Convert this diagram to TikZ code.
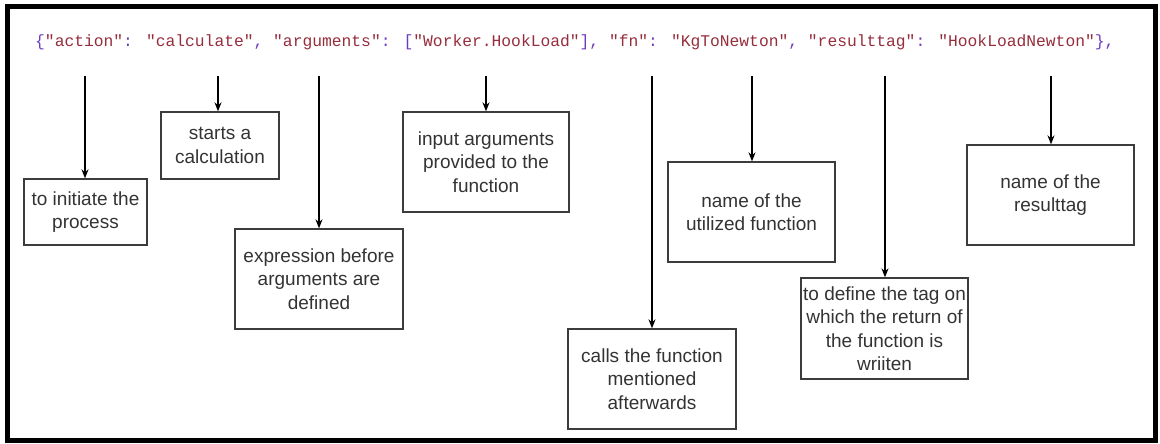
\documentclass[tikz,border=0pt]{standalone}
\usepackage{fontspec}
\setmainfont{Liberation Sans}
\newfontfamily\codefont{Liberation Mono}
\usepackage{tikz}
\usetikzlibrary{arrows.meta}
\usepackage{xcolor}
\definecolor{jsonpurple}{RGB}{110,60,190}
\definecolor{jsonbrown}{RGB}{150,45,60}
\definecolor{boxgrey}{RGB}{60,60,60}
\newcommand{\jp}[1]{\textcolor{jsonpurple}{#1}}
\newcommand{\js}[1]{\textcolor{jsonbrown}{#1}}
\tikzset{%
    note/.style={%
        draw=boxgrey, line width=1.3pt, text=black!80, align=center,
        inner sep=0pt, font=\fontsize{19}{23.5}\selectfont
    },
    pointer/.style={line width=2.5pt, -{Stealth[length=9pt,width=7pt]}}
}

\begin{document}
\begin{tikzpicture}[x=1pt,y=-1pt]
    \useasboundingbox (0,0) rectangle (1160,444);
    \draw[line width=5pt] (7,7) rectangle (1155,440);
    \node[anchor=west, inner sep=0pt, font=\codefont\fontsize{16.3}{20}\selectfont] (code) at (35,42)
        {\jp{\{}\js{"action"}\jp{:} \js{"calculate"}\jp{,} \js{"arguments"}\jp{:} \jp{[}\js{"Worker.HookLoad"}\jp{],} \js{"fn"}\jp{:} \js{"KgToNewton"}\jp{,} \js{"resulttag"}\jp{:} \js{"HookLoadNewton"}\jp{\},}};
    % explanation boxes
    \node[note, minimum width=123pt, minimum height=66pt] (action) at (85.5,212) {to initiate the\\process};
    \node[note, minimum width=118pt, minimum height=67pt] (calculate) at (220,145.5) {starts a\\calculation};
    \node[note, minimum width=168pt, minimum height=100pt] (arguments) at (319,279) {expression before\\arguments are\\defined};
    \node[note, minimum width=166pt, minimum height=100pt] (input) at (486,162) {input arguments\\provided to the\\function};
    \node[note, minimum width=168pt, minimum height=100pt] (fn) at (652,379) {calls the function\\mentioned\\afterwards};
    \node[note, minimum width=167pt, minimum height=100pt] (fnname) at (751.5,212) {name of the\\utilized function};
    \node[note, minimum width=167pt, minimum height=101pt] (resulttag) at (884.5,328.5) {to define the tag on\\which the return of\\the function is\\wriiten};
    \node[note, minimum width=167pt, minimum height=100pt] (tagname) at (1050.5,195) {name of the\\resulttag};
    % pointers from the code line
    \foreach \name/\x in {action/85, calculate/218, arguments/319, input/486, fn/652, fnname/752, resulttag/885, tagname/1051}
    {
    \coordinate (top-\name) at (\x,76);
    \draw[pointer] (top-\name) -- (top-\name |- \name.north);
    }
\end{tikzpicture}
\end{document}
